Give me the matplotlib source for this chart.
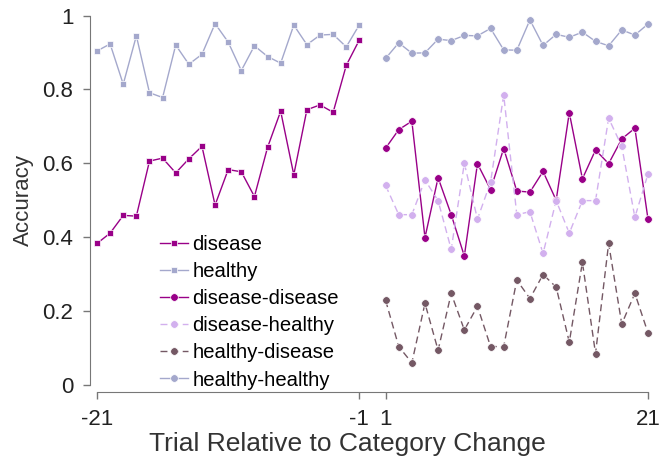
import numpy as np
import matplotlib.pyplot as plt

plt.rcParams['font.family'] = ['Liberation Sans', 'DejaVu Sans']

# trials before / after the category change
pre_trials = list(range(-21, 0))
post_trials = list(range(1, 22))

disease = [0.383, 0.411, 0.459, 0.457, 0.606, 0.614, 0.574, 0.612, 0.646, 0.487,
           0.583, 0.577, 0.510, 0.643, 0.741, 0.569, 0.745, 0.758, 0.738, 0.865, 0.934]
healthy = [0.904, 0.923, 0.814, 0.945, 0.791, 0.778, 0.920, 0.868, 0.895, 0.978,
           0.928, 0.851, 0.918, 0.889, 0.871, 0.974, 0.921, 0.947, 0.949, 0.915, 0.975]

dis_dis = [0.641, 0.691, 0.714, 0.399, 0.561, 0.461, 0.349, 0.599, 0.529, 0.640,
           0.525, 0.522, 0.578, 0.500, 0.737, 0.558, 0.636, 0.599, 0.666, 0.695, 0.449]
dis_hea = [0.540, 0.461, 0.461, 0.555, 0.499, 0.367, 0.600, 0.449, 0.549, 0.785,
           0.461, 0.469, 0.356, 0.499, 0.411, 0.499, 0.499, 0.722, 0.646, 0.454, 0.571]
hea_dis = [0.229, 0.104, 0.060, 0.221, 0.094, 0.248, 0.149, 0.213, 0.104, 0.104,
           0.284, 0.234, 0.299, 0.265, 0.116, 0.332, 0.085, 0.383, 0.165, 0.248, 0.141]
hea_hea = [0.884, 0.926, 0.898, 0.899, 0.936, 0.932, 0.946, 0.945, 0.965, 0.907,
           0.906, 0.988, 0.919, 0.949, 0.941, 0.955, 0.930, 0.918, 0.961, 0.947, 0.977]

c_dis = '#990088'
c_hea = '#a4a8cc'
c_dh = '#d2b0ee'
c_hd = '#745864'

fig = plt.figure(figsize=(6.68, 4.63), dpi=100)
ax = fig.add_axes([97 / 668, 1 - 385 / 463, 551 / 668, 369.5 / 463])

common = dict(lw=1.0, mec='white', mew=0.5, clip_on=False)
ax.plot(pre_trials, disease, '-s', color=c_dis, ms=4, label='disease', **common)
ax.plot(pre_trials, healthy, '-s', color=c_hea, ms=4, label='healthy', **common)
ax.plot(post_trials, dis_dis, '-o', color=c_dis, ms=5.5, label='disease-disease', **common)
ax.plot(post_trials, dis_hea, '--o', color=c_dh, ms=5.5, dashes=(5, 3),
        label='disease-healthy', **common)
ax.plot(post_trials, hea_dis, '--o', color=c_hd, ms=5.5, dashes=(5, 3),
        label='healthy-disease', **common)
ax.plot(post_trials, hea_hea, '-o', color=c_hea, ms=5.5, label='healthy-healthy', **common)

ax.set_xlim(-21, 21)
ax.set_ylim(0, 1)
ax.set_xticks([-21, -1, 1, 21])
ax.set_xticklabels(['-21', '-1', '1', '21'])
ax.set_yticks([0, 0.2, 0.4, 0.6, 0.8, 1])
ax.set_yticklabels(['0', '0.2', '0.4', '0.6', '0.8', '1'])

for s in ['top', 'right']:
    ax.spines[s].set_visible(False)
for s in ['left', 'bottom']:
    ax.spines[s].set_position(('outward', 5))
    ax.spines[s].set_color('#777777')
ax.spines['bottom'].set_bounds(-21, 21)
ax.spines['left'].set_bounds(0, 1)
ax.tick_params(colors='#777777', labelcolor='#222222', labelsize=16, length=5, width=1)
ax.tick_params(axis='y', pad=7)
ax.tick_params(axis='x', pad=7)

ax.set_xlabel('Trial Relative to Category Change', fontsize=19, color='#333333')
ax.set_ylabel('Accuracy', fontsize=16, color='#333333')
ax.xaxis.set_label_coords(0.454, -0.127)
ax.yaxis.set_label_coords(-0.114, 0.5)

ax.legend(loc='upper left', bbox_to_anchor=(0.114, 0.406), frameon=False,
          fontsize=14.6, handlelength=1.4, handletextpad=0.2, labelspacing=0.4,
          borderpad=0, borderaxespad=0)

fig.savefig('out.png', dpi=100)
